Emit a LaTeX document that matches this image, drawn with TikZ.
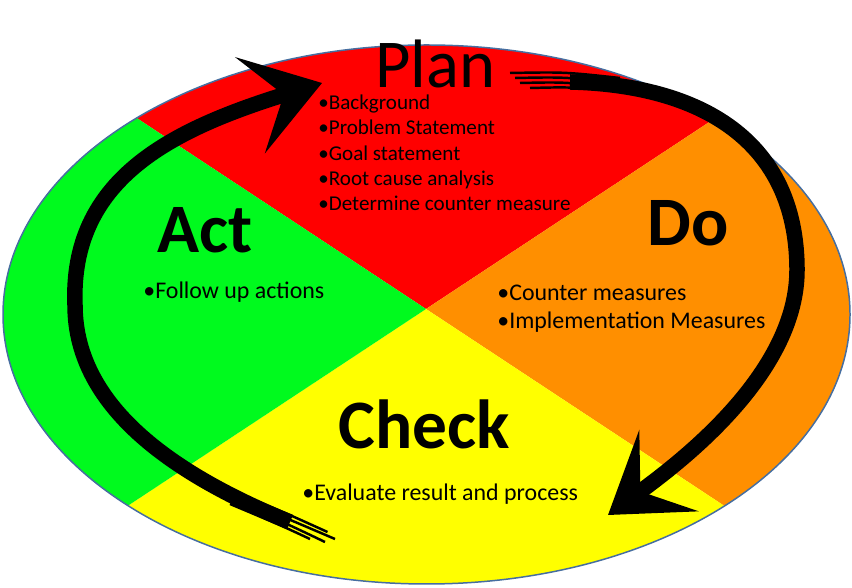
\documentclass[tikz,border=0pt]{standalone}
\usepackage{fontspec}
\setmainfont{Carlito}
\usetikzlibrary{arrows.meta}
\definecolor{planred}{RGB}{255,0,0}
\definecolor{doorange}{RGB}{255,143,0}
\definecolor{checkyellow}{RGB}{255,255,0}
\definecolor{actgreen}{RGB}{0,250,30}
\definecolor{rimblue}{RGB}{70,110,160}
\begin{document}
\begin{tikzpicture}[
            title/.style={anchor=base west, inner sep=0pt, font=\fontsize{39}{41}\selectfont},
            bigword/.style={anchor=base west, inner sep=0pt, font=\fontsize{39.5}{42}\selectfont\bfseries},
            items/.style={anchor=base west, inner sep=0pt, align=left, font=\fontsize{13.6}{16.4}\selectfont},
            smallitems/.style={items, font=\fontsize{12}{14.5}\selectfont},
            brush/.style={line width=0.31cm, -{Stealth[length=1.5cm, width=2cm, inset=0.7cm]}},
            hair/.style={line width=1.4pt}
        ]
            \useasboundingbox (0,0) rectangle (17.04,11.76);
            \coordinate (mid) at (8.52,5.58);
            \coordinate (ul) at (-3.48,13.5);
            \coordinate (ur) at (20.52,13.5);
            \coordinate (ll) at (-3.48,-2.34);
            \coordinate (lr) at (20.52,-2.34);

            % the four quarters
            \begin{scope}
                \clip (8.53,5.47) ellipse [x radius=8.47, y radius=5.39];
                \fill[planred] (mid) -- (ul) -- (ur) -- cycle;
                \fill[doorange] (mid) -- (ur) -- (lr) -- cycle;
                \fill[checkyellow] (mid) -- (lr) -- (ll) -- cycle;
                \fill[actgreen] (mid) -- (ll) -- (ul) -- cycle;
            \end{scope}
            \draw[rimblue, line width=0.85pt] (8.53,5.47) ellipse [x radius=8.47, y radius=5.39];

            % titles
            \node[title] (plan) at (7.5,10.0) {Plan};
            \node[bigword] (act) at (3.14,6.7) {Act};
            \node[bigword] (do) at (12.94,6.84) {Do};
            \node[bigword] (check) at (6.76,2.78) {Check};

            % bullet lists (base = last line)
            \node[smallitems] (planlist) at (6.36,7.54) {\textbullet Background\\\textbullet Problem Statement\\\textbullet Goal statement\\\textbullet Root cause analysis\\\textbullet Determine counter measure};
            \node[items] (actlist) at (2.86,5.78) {\textbullet Follow up actions};
            \node[items] (dolist) at (9.94,5.18) {\textbullet Counter measures\\\textbullet Implementation Measures};
            \node[items] (checklist) at (6.04,1.74) {\textbullet Evaluate result and process};

            % brush arrows
            \coordinate (actstart) at (5.8,1.32);
            \coordinate (actside) at (1.5,5.66);
            \coordinate (actend) at (6.44,10.1);
            \coordinate (dostart) at (11.4,10.12);
            \coordinate (doside) at (15.94,6.36);
            \coordinate (doend) at (12.16,1.46);

            \draw[brush] (actstart) .. controls (3.6,2.22) and (1.5,3.56) .. (actside)
                .. controls (1.4,8.16) and (3.4,9.16) .. (actend);
            \draw[brush] (dostart) .. controls (14.0,10.06) and (15.94,8.96) .. (doside)
                .. controls (15.94,4.36) and (13.78,2.64) .. (doend);

            % loose hairs at the brush ends
            \draw[hair] (4.6,1.95) .. controls (5.6,1.55) .. (6.55,1.12);
            \draw[hair] (4.6,1.85) .. controls (5.6,1.45) .. (6.7,0.98);
            \draw[hair] (4.6,1.75) .. controls (5.6,1.35) .. (6.5,0.92);
            \draw[hair] (4.6,1.68) .. controls (5.6,1.26) .. (6.2,0.98);
            \draw[hair] (10.2,10.3) .. controls (11.3,10.32) .. (12.4,10.2);
            \draw[hair] (10.3,10.2) .. controls (11.3,10.22) .. (12.4,10.1);
            \draw[hair] (10.4,10.1) .. controls (11.3,10.12) .. (12.4,10.0);
            \draw[hair] (10.6,10.0) .. controls (11.4,10.02) .. (12.4,9.94);
        \end{tikzpicture}
\end{document}
